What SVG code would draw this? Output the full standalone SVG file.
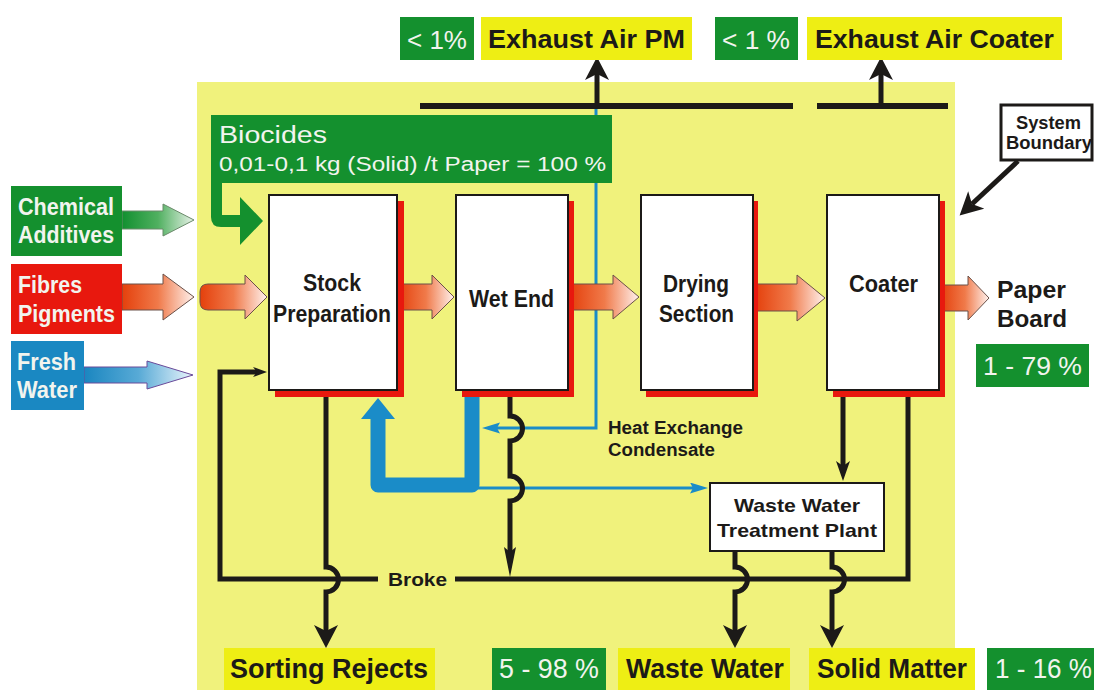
<svg xmlns="http://www.w3.org/2000/svg" width="1094" height="690" viewBox="0 0 1094 690">
<style>
.t{font-family:"Liberation Sans",Arial,sans-serif;font-weight:bold;fill:#1c1a18}
.w{font-family:"Liberation Sans",Arial,sans-serif;fill:#f2f4ee}
.wb{font-family:"Liberation Sans",Arial,sans-serif;font-weight:bold;fill:#f2f4ee}
.grn{fill:#14902e}
.ylw{fill:#eeee14}
.box{fill:#ffffff;stroke:#1c1a18;stroke-width:2}
.shd{fill:#e8180e}
.ln{fill:none;stroke:#1c1a18;stroke-width:5}
.bl{fill:none;stroke:#1a8cc8;stroke-width:3}
.ra{fill:url(#gr);stroke:#6a5048;stroke-width:1}
</style>
<defs>
<linearGradient id="gr" x1="0" y1="0" x2="1" y2="0"><stop offset="0" stop-color="#e4400c"/><stop offset="0.5" stop-color="#f07a4a"/><stop offset="1" stop-color="#fff2ee"/></linearGradient>
<linearGradient id="gg" x1="0" y1="0" x2="1" y2="0"><stop offset="0" stop-color="#129030"/><stop offset="0.5" stop-color="#50b060"/><stop offset="1" stop-color="#e8f2e8"/></linearGradient>
<linearGradient id="gb" x1="0" y1="0" x2="1" y2="0"><stop offset="0" stop-color="#1a86c0"/><stop offset="0.5" stop-color="#58aad6"/><stop offset="1" stop-color="#eaf5fb"/></linearGradient>
<marker id="ahB" markerUnits="userSpaceOnUse" markerWidth="24" markerHeight="25" refX="6" refY="12" orient="auto"><path d="M0,0 L23,12 L0,24 L6,12 Z" fill="#1c1a18"/></marker>
<marker id="ahS" markerUnits="userSpaceOnUse" markerWidth="15" markerHeight="11" refX="4" refY="5" orient="auto"><path d="M0,0 L14,5 L0,10 L4,5 Z" fill="#1c1a18"/></marker>
<marker id="ahN" markerUnits="userSpaceOnUse" markerWidth="31" markerHeight="13" refX="5" refY="6" orient="auto"><path d="M0,0 L30,6 L0,12 L5,6 Z" fill="#1c1a18"/></marker>
<marker id="ahM" markerUnits="userSpaceOnUse" markerWidth="21" markerHeight="15" refX="5" refY="7" orient="auto"><path d="M0,0 L20,7 L0,14 L5,7 Z" fill="#1c1a18"/></marker>
<marker id="ahBl" markerUnits="userSpaceOnUse" markerWidth="19" markerHeight="12" refX="3" refY="5.5" orient="auto"><path d="M0,0 L18,5.5 L0,11 L3,5.5 Z" fill="#1a8cc8"/></marker>
</defs>
<rect width="1094" height="690" fill="#ffffff"/>
<rect x="197" y="82" width="758" height="608" fill="#f0f27c"/>

<g id="connectors">
<path class="ln" style="stroke-width:6" d="M420,106 H793 M817,106 H948"/>
<path class="bl" d="M596,109 V428 H497" marker-end="url(#ahBl)"/>
<path class="ln" d="M597,103 V74" marker-end="url(#ahB)"/>
<path class="ln" d="M881,103 V74" marker-end="url(#ahB)"/>
<path class="ln" d="M378,579 H220 V372 H257" marker-end="url(#ahS)"/>
<path class="ln" d="M455,579 H908 V396"/>
<path class="ln" d="M326,396 V567 A12.5,12.5 0 0 1 326,592 V631" marker-end="url(#ahB)"/>
<path class="bl" d="M472,488 H693" marker-end="url(#ahBl)"/>
<path fill="none" stroke="#1a8cc8" stroke-width="15" stroke-linejoin="round" d="M472,396 V485 H378 V416"/>
<polygon points="361,419 378,398 395,419" fill="#1a8cc8"/>
<path class="ln" d="M510,396 V416 A12.5,12.5 0 0 1 510,441 V476 A12.5,12.5 0 0 1 510,501 V552" marker-end="url(#ahN)"/>
<path class="ln" d="M843,396 V466" marker-end="url(#ahM)"/>
<path class="ln" d="M735,551 V567 A12.5,12.5 0 0 1 735,592 V631" marker-end="url(#ahB)"/>
<path class="ln" d="M832,551 V567 A12.5,12.5 0 0 1 832,592 V631" marker-end="url(#ahB)"/>
<path class="ln" d="M1018,161 L972,204" marker-end="url(#ahB)"/>
</g>

<g id="block-arrows">
<path class="ra" style="fill:url(#gg);stroke:#6a8a6a" d="M122,211 H163 V204 L194,220 L163,236 V229 H122 Z"/>
<path class="ra" d="M122,284 H163 V274 L194,297 L163,320 V310 H122 Z"/>
<path class="ra" style="fill:url(#gb);stroke:#6a4a9a" d="M84,367 H147 V361 L193,375 L147,389 V383 H84 Z"/>
<path class="ra" d="M208,284 H245 V275 L267,297 L245,319 V310 H208 Q200,310 200,302 V292 Q200,284 208,284 Z"/>
<path class="ra" d="M398,284 H432 V275 L454,297 L432,319 V310 H398 Z"/>
<path class="ra" d="M570,284 H613 V275 L639,297 L613,319 V310 H570 Z"/>
<path class="ra" d="M755,284 H797 V275 L825,298 L797,321 V311 H755 Z"/>
<path class="ra" d="M941,285 H968 V276 L989,298 L968,320 V311 H941 Z"/>
</g>

<g id="exhaust-pm">
<rect class="grn" x="400" y="17" width="74" height="43"/>
<text class="w" x="407" y="49" font-size="26" textLength="60" lengthAdjust="spacingAndGlyphs">&lt; 1%</text>
<rect class="ylw" x="481" y="17" width="211" height="43"/>
<text class="t" x="488" y="48" font-size="26" textLength="197" lengthAdjust="spacingAndGlyphs">Exhaust Air PM</text>
</g>
<g id="exhaust-coater">
<rect class="grn" x="715" y="17" width="83" height="43"/>
<text class="w" x="722" y="49" font-size="26" textLength="68" lengthAdjust="spacingAndGlyphs">&lt; 1 %</text>
<rect class="ylw" x="807" y="17" width="255" height="43"/>
<text class="t" x="815" y="48" font-size="26" textLength="239" lengthAdjust="spacingAndGlyphs">Exhaust Air Coater</text>
</g>

<g id="biocides">
<path class="grn" d="M211,115 H612 V183 H222 V215 H240 V197 L263,221 L240,245 V227 H221 Q211,227 211,217 Z"/>
<text class="w" x="219" y="143" font-size="23" textLength="108" lengthAdjust="spacingAndGlyphs">Biocides</text>
<text class="w" x="219" y="171" font-size="20" textLength="387" lengthAdjust="spacingAndGlyphs">0,01-0,1 kg (Solid) /t Paper = 100 %</text>
</g>

<g id="chemical-additives">
<rect class="grn" x="11" y="186" width="111" height="70"/>
<text class="wb" x="18" y="215" font-size="23" textLength="96" lengthAdjust="spacingAndGlyphs">Chemical</text>
<text class="wb" x="18" y="243" font-size="23" textLength="96" lengthAdjust="spacingAndGlyphs">Additives</text>
</g>
<g id="fibres-pigments">
<rect x="11" y="264" width="111" height="70" fill="#e8180e"/>
<text class="wb" x="18" y="293" font-size="23" textLength="64" lengthAdjust="spacingAndGlyphs">Fibres</text>
<text class="wb" x="18" y="322" font-size="23" textLength="97" lengthAdjust="spacingAndGlyphs">Pigments</text>
</g>
<g id="fresh-water">
<rect x="11" y="341" width="73" height="69" fill="#1a88c2"/>
<text class="wb" x="17" y="370" font-size="23" textLength="59" lengthAdjust="spacingAndGlyphs">Fresh</text>
<text class="wb" x="17" y="398" font-size="23" textLength="60" lengthAdjust="spacingAndGlyphs">Water</text>
</g>

<g id="stock-preparation">
<rect class="shd" x="275" y="201" width="129" height="196"/>
<rect class="box" x="269" y="195" width="128" height="195"/>
<text class="t" x="303" y="291" font-size="24" textLength="58" lengthAdjust="spacingAndGlyphs">Stock</text>
<text class="t" x="273" y="322" font-size="24" textLength="118" lengthAdjust="spacingAndGlyphs">Preparation</text>
</g>
<g id="wet-end">
<rect class="shd" x="462" y="201" width="112" height="196"/>
<rect class="box" x="456" y="195" width="112" height="195"/>
<text class="t" x="469" y="307" font-size="24" textLength="85" lengthAdjust="spacingAndGlyphs">Wet End</text>
</g>
<g id="drying-section">
<rect class="shd" x="646" y="201" width="112" height="196"/>
<rect class="box" x="641" y="195" width="112" height="195"/>
<text class="t" x="663" y="292" font-size="24" textLength="66" lengthAdjust="spacingAndGlyphs">Drying</text>
<text class="t" x="659" y="322" font-size="24" textLength="75" lengthAdjust="spacingAndGlyphs">Section</text>
</g>
<g id="coater">
<rect class="shd" x="833" y="201" width="112" height="196"/>
<rect class="box" x="827" y="195" width="112" height="195"/>
<text class="t" x="849" y="292" font-size="24" textLength="69" lengthAdjust="spacingAndGlyphs">Coater</text>
</g>

<g id="paper-board">
<text class="t" x="997" y="298" font-size="24" textLength="69" lengthAdjust="spacingAndGlyphs">Paper</text>
<text class="t" x="997" y="327" font-size="24" textLength="70" lengthAdjust="spacingAndGlyphs">Board</text>
<rect class="grn" x="976" y="344" width="113" height="43"/>
<text class="w" x="983" y="375" font-size="26" textLength="99" lengthAdjust="spacingAndGlyphs">1 - 79 %</text>
</g>

<g id="system-boundary">
<rect x="1001" y="105" width="91" height="55" fill="#ffffff" stroke="#1c1a18" stroke-width="3"/>
<text class="t" x="1016" y="129" font-size="18" textLength="65" lengthAdjust="spacingAndGlyphs">System</text>
<text class="t" x="1006" y="149" font-size="18" textLength="86" lengthAdjust="spacingAndGlyphs">Boundary</text>
</g>

<g id="heat-exchange-label">
<text class="t" x="608" y="434" font-size="18" textLength="135" lengthAdjust="spacingAndGlyphs">Heat Exchange</text>
<text class="t" x="608" y="456" font-size="18" textLength="107" lengthAdjust="spacingAndGlyphs">Condensate</text>
</g>

<g id="broke-label">
<text class="t" x="388" y="586" font-size="19" textLength="59" lengthAdjust="spacingAndGlyphs">Broke</text>
</g>

<g id="wwtp">
<rect class="box" x="710" y="483" width="174" height="68"/>
<text class="t" x="734" y="512" font-size="19" textLength="126" lengthAdjust="spacingAndGlyphs">Waste Water</text>
<text class="t" x="717" y="537" font-size="19" textLength="160" lengthAdjust="spacingAndGlyphs">Treatment Plant</text>
</g>

<g id="sorting-rejects">
<rect class="ylw" x="224" y="648" width="211" height="42"/>
<text class="t" x="230" y="678" font-size="27" textLength="198" lengthAdjust="spacingAndGlyphs">Sorting Rejects</text>
</g>
<g id="waste-water">
<rect class="grn" x="492" y="648" width="114" height="42"/>
<text class="w" x="499" y="678" font-size="27" textLength="100" lengthAdjust="spacingAndGlyphs">5 - 98 %</text>
<rect class="ylw" x="618" y="648" width="172" height="42"/>
<text class="t" x="626" y="678" font-size="27" textLength="158" lengthAdjust="spacingAndGlyphs">Waste Water</text>
</g>
<g id="solid-matter">
<rect class="ylw" x="809" y="648" width="166" height="42"/>
<text class="t" x="817" y="678" font-size="27" textLength="150" lengthAdjust="spacingAndGlyphs">Solid Matter</text>
<rect class="grn" x="987" y="648" width="107" height="42"/>
<text class="w" x="995" y="678" font-size="27" textLength="97" lengthAdjust="spacingAndGlyphs">1 - 16 %</text>
</g>
</svg>
